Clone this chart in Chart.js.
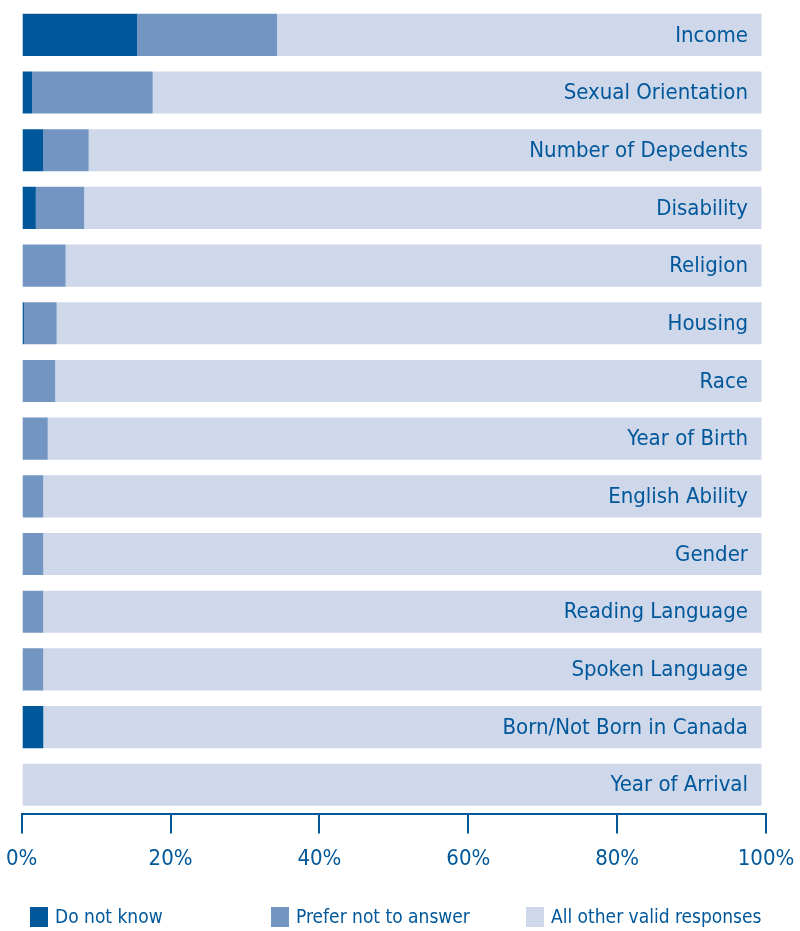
<!DOCTYPE html>
<html>
<head>
<meta charset="utf-8">
<script src="https://cdn.jsdelivr.net/npm/chart.js@4"></script>
<style>
  body { margin: 0; background: #fff; }
  #wrap { width: 800px; height: 931px; }
</style>
</head>
<body>
<div id="wrap"><canvas id="myBars"></canvas></div>
<script>
const categories = ["Income", "Sexual Orientation", "Number of Depedents", "Disability", "Religion", "Housing", "Race", "Year of Birth", "English Ability", "Gender", "Reading Language", "Spoken Language", "Born/Not Born in Canada", "Year of Arrival"];
const doNotKnow = [15.5, 1.4, 2.9, 1.9, 0, 0.3, 0, 0, 0, 0, 0, 0, 2.9, 0];
const preferNot = [18.8, 16.2, 6.1, 6.5, 5.9, 4.4, 4.5, 3.5, 2.9, 2.9, 2.9, 2.9, 0, 0];
const otherValid = [65.1, 81.8, 90.4, 91.0, 93.5, 94.7, 94.9, 95.9, 96.5, 96.5, 96.5, 96.5, 96.5, 99.4];
const tickValues = [0, 20, 40, 60, 80, 100];

const blue = "#00579a";
const fontFamily = "'DejaVu Sans Condensed', 'DejaVu Sans', sans-serif";

// category names sit inside the bars, right aligned
const insideLabels = {
  id: "insideLabels",
  afterDatasetsDraw(chart) {
    const x = chart.scales.x;
    const y = chart.scales.y;
    const ctx = chart.ctx;
    ctx.save();
    ctx.font = "22px " + fontFamily;
    ctx.fillStyle = blue;
    ctx.textAlign = "right";
    ctx.textBaseline = "middle";
    categories.forEach((name, i) => {
      ctx.fillText(name, x.getPixelForValue(100) - 18, y.getPixelForValue(i) + 1);
    });
    ctx.restore();
  }
};

// legend on fixed columns like the original
const legendColumns = [30, 271, 526];
const bottomLegend = {
  id: "bottomLegend",
  afterDraw(chart) {
    const ctx = chart.ctx;
    const yMid = chart.height - 14;
    ctx.save();
    ctx.font = "19px " + fontFamily;
    ctx.textBaseline = "middle";
    ctx.textAlign = "left";
    chart.data.datasets.forEach((ds, i) => {
      const x0 = legendColumns[i];
      ctx.fillStyle = ds.backgroundColor;
      ctx.fillRect(x0, yMid - 10, 18, 20);
      ctx.fillStyle = blue;
      ctx.fillText(ds.label, x0 + 25, yMid + 1);
    });
    ctx.restore();
  }
};

new Chart(document.getElementById("myBars"), {
  type: "bar",
  data: {
    labels: categories,
    datasets: [
      { label: "Do not know", data: doNotKnow, backgroundColor: blue },
      { label: "Prefer not to answer", data: preferNot, backgroundColor: "#7395c2" },
      { label: "All other valid responses", data: otherValid, backgroundColor: "#cfd8ea" }
    ]
  },
  options: {
    indexAxis: "y",
    responsive: true,
    maintainAspectRatio: false,
    animation: false,
    barPercentage: 0.73,
    categoryPercentage: 1,
    layout: { padding: { left: 21.7, right: 34, top: 6, bottom: 47 } },
    scales: {
      x: {
        stacked: true,
        min: 0,
        max: 100,
        afterBuildTicks: (axis) => { axis.ticks = tickValues.map((v) => ({ value: v })); },
        // tick labels may hang over the edges, the padding handles it
        afterFit: (axis) => { axis.paddingLeft = 0; axis.paddingRight = 0; },
        grid: { drawOnChartArea: false, color: blue, lineWidth: 2, tickLength: 20 },
        border: { color: blue, width: 2 },
        ticks: {
          color: blue,
          padding: 12,
          maxRotation: 0,
          font: { family: fontFamily, size: 22 },
          callback: (v) => v + "%"
        }
      },
      y: {
        stacked: true,
        grid: { display: false, drawTicks: false },
        border: { display: false },
        ticks: { display: false }
      }
    },
    plugins: {
      tooltip: { enabled: false },
      legend: { display: false }
    }
  },
  plugins: [insideLabels, bottomLegend]
});
</script>
</body>
</html>
